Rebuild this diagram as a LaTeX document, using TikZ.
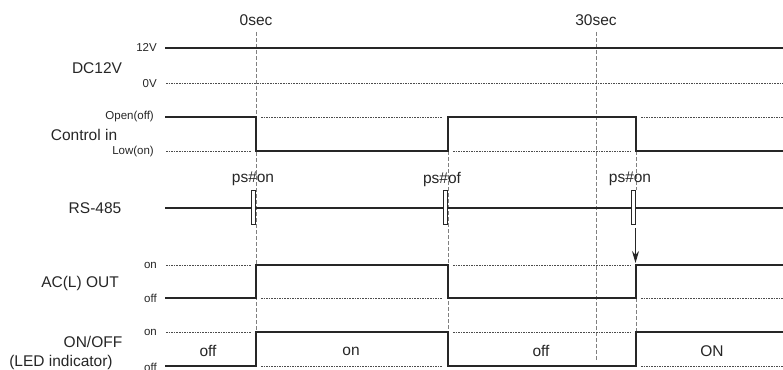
\documentclass[tikz,border=0pt]{standalone}
\usepackage{fontspec}
\setmainfont{Liberation Sans}
\usetikzlibrary{arrows.meta}

\begin{document}
\begin{tikzpicture}[x=1pt,y=-1pt,
		wave/.style={line width=2.6pt, color=black!85},
		refline/.style={line width=0.8pt, dash pattern=on 1.6pt off 1pt, color=black!70},
		guide/.style={line width=1pt, dash pattern=on 4pt off 2pt, color=black!50},
		pulse/.style={line width=1.3pt, fill=white, draw=black!85},
		lbl/.style={font=\fontsize{15.5}{18}\selectfont, inner sep=0pt, text=black!85},
		sm/.style={font=\fontsize{11.5}{13}\selectfont, inner sep=0pt, text=black!85}]
			\useasboundingbox (0,0) rectangle (783,369);
			% time guides
			\draw[guide](256,32) -- (256,332);
			\draw[guide](596,32) -- (596,360);
			\draw[guide](448,151) -- (448,332);
			\draw[guide](636,151) -- (636,190);
			\draw[guide](636,298) -- (636,332);
			\node[lbl] (t0) at (256,20) {0sec};
			\node[lbl] (t30) at (596,20) {30sec};
			% DC12V
			\draw[refline](166,83) -- (783,83);
			\draw[wave](165,48) -- (783,48);
			\node[lbl] (dc) at (97,68) {DC12V};
			\node[sm, anchor=east] (dchi) at (157,47) {12V};
			\node[sm, anchor=east] (dclo) at (157,84) {0V};
			% Control in
			\draw[refline](166,151) -- (251,151);
			\draw[refline](261,117) -- (443,117);
			\draw[refline](453,151) -- (631,151);
			\draw[refline](641,117) -- (783,117);
			\draw[wave](165,117) -- (256,117) -- (256,151) -- (448,151) -- (448,117) -- (636,117) -- (636,151) -- (783,151);
			\node[lbl] (ctl) at (84,135) {Control in};
			\node[sm, anchor=east] (ctlhi) at (154,117) {Open(off)};
			\node[sm, anchor=east] (ctllo) at (154,152) {Low(on)};
			% RS-485
			\draw[wave](165,208) -- (783,208);
			\draw[pulse](251.5,190.5) rectangle (255.5,224.5);
			\draw[pulse](443.5,190.5) rectangle (447.5,224.5);
			\draw[pulse](631.5,190.5) rectangle (635.5,224.5);
			\node[lbl] (ps1) at (253,179) {ps\#on};
			\node[lbl] (ps2) at (442,179) {ps\#of};
			\node[lbl] (ps3) at (630,179) {ps\#on};
			\node[lbl] (rs) at (95,208) {RS-485};
			\coordinate (arrfrom) at (635.5,228);
			\coordinate (arrto) at (635.5,263);
			\draw[-{Stealth[length=12pt,width=7pt]}, line width=1.2pt, black!85] (arrfrom) -- (arrto);
			% AC(L) OUT
			\draw[refline](166,265) -- (251,265);
			\draw[refline](261,298) -- (443,298);
			\draw[refline](453,265) -- (631,265);
			\draw[refline](641,298) -- (783,298);
			\draw[wave](165,298) -- (256,298) -- (256,265) -- (448,265) -- (448,298) -- (636,298) -- (636,265) -- (783,265);
			\node[lbl] (ac) at (80,283) {AC(L) OUT};
			\node[sm, anchor=east] (achi) at (157,265) {on};
			\node[sm, anchor=east] (aclo) at (157,298) {off};
			% ON/OFF (LED)
			\draw[refline](166,332) -- (251,332);
			\draw[refline](261,366) -- (443,366);
			\draw[refline](453,332) -- (631,332);
			\draw[refline](641,366) -- (783,366);
			\draw[wave](165,366) -- (256,366) -- (256,332) -- (448,332) -- (448,366) -- (636,366) -- (636,332) -- (783,332);
			\node[lbl] (led) at (93,342) {ON/OFF};
			\node[lbl] (ledsub) at (61,362) {(LED indicator)};
			\node[sm, anchor=east] (ledhi) at (157,332) {on};
			\node[sm, anchor=east] (ledlo) at (157,367) {off};
			\node[lbl] (st1) at (208,351) {off};
			\node[lbl] (st2) at (351,351) {on};
			\node[lbl] (st3) at (541,351) {off};
			\node[lbl] (st4) at (712,351) {ON};
		\end{tikzpicture}
\end{document}
